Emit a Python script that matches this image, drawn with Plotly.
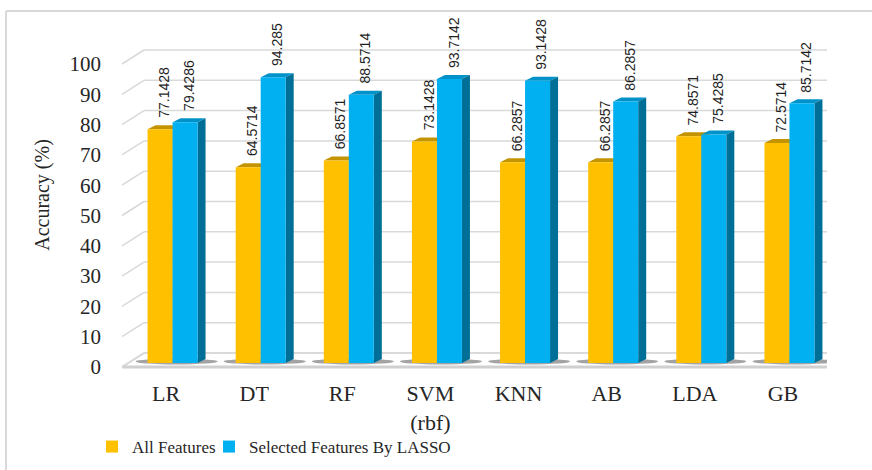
import plotly.graph_objects as go

# Classifier accuracy (%) with all features vs. LASSO-selected features
models = ["LR", "DT", "RF", "SVM<br>(rbf)", "KNN", "AB", "LDA", "GB"]
acc_all = [77.1428, 64.5714, 66.8571, 73.1428, 66.2857, 66.2857, 74.8571, 72.5714]
acc_lasso = [79.4286, 94.285, 88.5714, 93.7142, 93.1428, 86.2857, 75.4285, 85.7142]
y_ticks = list(range(0, 101, 10))

series = [
    ("All Features", acc_all, "#FFC000", "#C49300", "#B58800", "legend"),
    ("Selected Features By LASSO", acc_lasso, "#00B0F0", "#0092C8", "#006F98", "legend2"),
]

# plot-area geometry (px) and the pseudo-3D depth
W, H = 872, 470
L, R, T, B = 122, 827, 20, 370
XU = (R - L) / len(models)          # px per category
K = 3.03                            # px per accuracy unit
FRONT = 4 / K                       # front floor edge sits below bar base
BACK = 10 / K                       # back wall sits above bar base
WALL_DX = 22 / XU                   # front-to-back horizontal shift
DX, DY = 8 / XU, 4 / K              # bar depth
BW = 25 / XU
OFFS = [-6 / XU, 19 / XU]

idx = list(range(len(models)))
fig = go.Figure()
shapes = []

# outer frame (top and left edges)
fx0 = (6 - L) / (R - L)
fy1 = (B - 11) / (B - T)
shapes.append(dict(type="line", xref="paper", yref="paper", x0=fx0, x1=(W - L) / (R - L),
                   y0=fy1, y1=fy1, line=dict(color="#d9d9d9", width=2), layer="below"))
shapes.append(dict(type="line", xref="paper", yref="paper", x0=fx0, x1=fx0,
                   y0=(B - H) / (B - T), y1=fy1, line=dict(color="#d9d9d9", width=2),
                   layer="below"))

xbl, xbr = -0.5 + WALL_DX, len(models) - 0.5 + WALL_DX
# floor
shapes.append(dict(type="path", xref="x", yref="y",
                   path=f"M{-0.5},{-FRONT} L{len(models) - 0.5},{-FRONT} "
                        f"L{xbr},{BACK} L{xbl},{BACK} Z",
                   line=dict(color="#d4d4d4", width=1.5), fillcolor="#ffffff",
                   layer="below"))
shapes.append(dict(type="line", xref="x", yref="y", x0=-0.5, x1=len(models) - 0.5,
                   y0=-FRONT, y1=-FRONT, line=dict(color="#d0d0d0", width=3),
                   layer="below"))

# back-wall gridlines and left-wall diagonals
for v in y_ticks:
    shapes.append(dict(type="line", xref="x", yref="y", x0=xbl, x1=xbr,
                       y0=v + BACK, y1=v + BACK,
                       line=dict(color="#d9d9d9", width=1.5), layer="below"))
    shapes.append(dict(type="line", xref="x", yref="y", x0=-0.5, x1=xbl,
                       y0=v - FRONT, y1=v + BACK,
                       line=dict(color="#d9d9d9", width=1.5), layer="below"))

# floor shadows behind each group
for i in idx:
    shapes.append(dict(type="circle", xref="x", yref="y",
                       x0=i + OFFS[0] - BW / 2 - 12 / XU,
                       x1=i + OFFS[1] + BW / 2 + 20 / XU,
                       y0=-1.5 / K, y1=4.5 / K,
                       fillcolor="rgba(50,50,50,0.45)", line=dict(width=0),
                       layer="below"))

annotations = []
for (name, vals, face, top, side, leg), off in zip(series, OFFS):
    xs = [i + off for i in idx]
    fig.add_trace(go.Bar(x=xs, y=vals, width=BW, name=name, legend=leg,
                         marker=dict(color=face, line=dict(width=0)),
                         hoverinfo="y"))
    for x, v in zip(xs, vals):
        xl, xr = x - BW / 2, x + BW / 2
        shapes.append(dict(type="path", xref="x", yref="y",
                           path=f"M{xl},{v} L{xl + DX},{v + DY} L{xr + DX},{v + DY} L{xr},{v} Z",
                           fillcolor=top, line=dict(width=0), layer="below"))
        shapes.append(dict(type="path", xref="x", yref="y",
                           path=f"M{xr},{0} L{xr + DX},{DY} L{xr + DX},{v + DY} L{xr},{v} Z",
                           fillcolor=side, line=dict(width=0), layer="below"))
        annotations.append(dict(x=x + DX / 2, y=v, xref="x", yref="y",
                                text=str(v), showarrow=False, textangle=-90,
                                yanchor="bottom", xanchor="center", yshift=9,
                                font=dict(family="Liberation Sans", size=14,
                                          color="#1f1f1f")))

# tick-label axis on the front plane
fig.add_trace(go.Scatter(x=[None], y=[None], yaxis="y2", showlegend=False,
                         hoverinfo="skip"))

legend_style = dict(orientation="h", y=(B - 447) / (B - T), xanchor="left",
                    yanchor="middle", bgcolor="rgba(0,0,0,0)", itemclick=False,
                    font=dict(family="Liberation Serif", size=17, color="#262626"))

fig.update_layout(
    width=W, height=H,
    margin=dict(l=L, r=W - R, t=T, b=H - B, autoexpand=False),
    paper_bgcolor="white", plot_bgcolor="rgba(0,0,0,0)",
    barmode="overlay",
    shapes=shapes, annotations=annotations,
    xaxis=dict(range=[-0.5, len(models) - 0.5], tickvals=idx, ticktext=models,
               showgrid=False, zeroline=False, showline=False, ticks="",
               ticklabelstandoff=8, automargin=False,
               tickfont=dict(family="Liberation Serif", size=22, color="#262626")),
    yaxis=dict(range=[-7 / K, (363 - T) / K], visible=False, showgrid=False,
               zeroline=False),
    yaxis2=dict(range=[-3 / K, (367 - T) / K], overlaying="y", side="left",
                tickvals=y_ticks, showgrid=False, zeroline=False, showline=False,
                ticks="", ticklabelstandoff=20, automargin=False,
                tickfont=dict(family="Liberation Serif", size=21, color="#262626"),
                title=dict(text="Accuracy (%)", standoff=14,
                           font=dict(family="Liberation Serif", size=20,
                                     color="#262626"))),
    legend=dict(x=(92 - L) / (R - L), **legend_style),
    legend2=dict(x=(209 - L) / (R - L), **legend_style),
    showlegend=True,
)

fig.write_html("out.html")
